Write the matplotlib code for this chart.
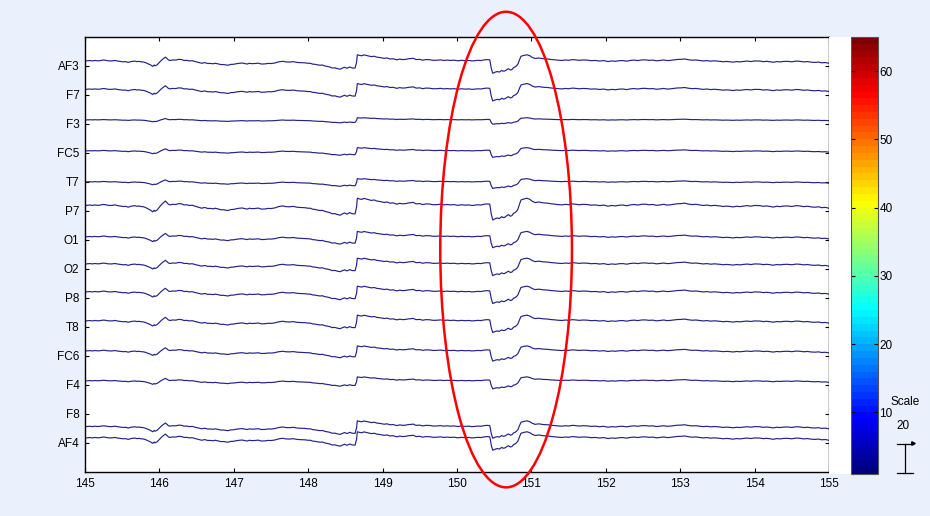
import numpy as np
import matplotlib
matplotlib.use("Agg")
import matplotlib.pyplot as plt
from matplotlib.patches import Ellipse, Rectangle
from matplotlib.lines import Line2D
from matplotlib.colors import LinearSegmentedColormap, Normalize

plt.rcParams['font.family'] = ['Liberation Sans', 'DejaVu Sans']

# channel names, top to bottom
channels = ['AF3', 'F7', 'F3', 'FC5', 'T7', 'P7', 'O1', 'O2',
            'P8', 'T8', 'FC6', 'F4', 'F8', 'AF4']

# common waveform: (time s, amplitude uV)
wave = [
    (145.00, 0.0), (145.04, 0.3), (145.07, 0.4), (145.10, 0.1), (145.13, 0.5),
    (145.17, 0.2), (145.20, 0.3), (145.24, 0.8), (145.27, 0.7), (145.31, 0.2),
    (145.36, 0.1), (145.40, 0.5), (145.44, 0.0), (145.48, -0.3), (145.51, -0.6),
    (145.55, -0.5), (145.58, -1.1), (145.62, -0.4), (145.67, 0.0), (145.70, -0.5),
    (145.72, -0.2), (145.75, -0.6), (145.78, -0.7), (145.81, -1.2), (145.85, -2.3),
    (145.88, -3.1), (145.91, -4.3), (145.93, -3.2), (145.94, -3.9), (145.97, -3.0),
    (146.00, -1.0), (146.02, 0.2), (146.05, 1.8), (146.08, 3.2), (146.10, 2.2),
    (146.12, 1.0), (146.14, 0.5), (146.18, 0.9), (146.22, 0.8), (146.26, 1.4),
    (146.30, 1.2), (146.33, 0.5), (146.37, 0.6), (146.40, 0.1), (146.44, 0.3),
    (146.48, -0.4), (146.52, -1.0), (146.57, -1.8), (146.60, -1.3), (146.62, -1.4),
    (146.65, -2.0), (146.68, -1.9), (146.72, -2.2), (146.75, -1.8), (146.79, -2.3),
    (146.83, -2.9), (146.86, -2.8), (146.89, -3.1), (146.92, -3.4), (146.96, -2.7),
    (147.00, -2.6), (147.02, -2.3), (147.06, -1.9), (147.11, -1.6), (147.15, -2.1),
    (147.18, -2.4), (147.21, -1.8), (147.24, -2.1), (147.28, -2.0), (147.33, -1.7),
    (147.37, -2.4), (147.42, -2.3), (147.46, -1.9), (147.50, -2.0), (147.55, -1.6),
    (147.60, -0.7), (147.63, -0.4), (147.66, -0.2), (147.70, -0.7), (147.75, -0.8),
    (147.80, -0.5), (147.85, -1.1), (147.90, -1.3), (147.95, -1.4), (148.00, -1.8),
    (148.03, -1.8), (148.06, -2.5), (148.09, -2.6), (148.12, -3.0), (148.16, -3.4),
    (148.19, -3.2), (148.22, -3.9), (148.26, -4.4), (148.29, -4.8), (148.32, -5.6),
    (148.36, -5.5), (148.39, -6.1), (148.43, -6.6), (148.46, -5.7), (148.49, -5.0),
    (148.52, -5.9), (148.56, -4.8), (148.59, -5.6), (148.63, -5.7), (148.65, -1.0),
    (148.66, 5.1), (148.69, 4.6), (148.72, 4.3), (148.75, 5.0), (148.79, 4.4),
    (148.82, 4.0), (148.85, 3.6), (148.89, 3.9), (148.92, 3.2), (148.97, 2.8),
    (149.02, 2.2), (149.06, 2.5), (149.10, 1.7), (149.14, 1.9), (149.19, 1.0),
    (149.23, 1.6), (149.27, 1.2), (149.31, 1.4), (149.35, 1.9), (149.38, 2.0),
    (149.41, 2.3), (149.45, 1.2), (149.50, 1.4), (149.54, 0.7), (149.58, 1.2),
    (149.63, 1.1), (149.68, 0.6), (149.73, 0.7), (149.78, 1.0), (149.82, 0.5),
    (149.87, 0.8), (149.91, 0.5), (149.96, 0.7), (150.01, 0.2), (150.06, 0.6),
    (150.11, 0.3), (150.16, 0.5), (150.20, 0.1), (150.24, 0.3), (150.28, 0.6),
    (150.32, 0.4), (150.36, 0.9), (150.40, 1.2), (150.44, 1.0), (150.45, -2.0),
    (150.46, -5.7), (150.48, -9.9), (150.51, -9.1), (150.54, -8.5), (150.57, -8.9),
    (150.60, -7.6), (150.62, -8.2), (150.64, -8.1), (150.67, -6.9), (150.69, -6.2),
    (150.72, -7.3), (150.74, -6.8), (150.76, -5.3), (150.78, -4.8), (150.80, -3.9),
    (150.82, -2.3), (150.84, 1.0), (150.86, 3.9), (150.90, 4.6), (150.94, 5.1),
    (150.98, 4.3), (151.01, 3.0), (151.05, 2.1), (151.10, 2.5), (151.16, 1.9),
    (151.22, 1.7), (151.26, 1.3), (151.30, 1.1), (151.36, 0.7), (151.41, 0.5),
    (151.46, 0.9), (151.50, 0.6), (151.55, 1.2), (151.59, 1.0), (151.64, 0.6),
    (151.70, 0.9), (151.76, 0.7), (151.80, 0.3), (151.86, 0.5), (151.92, 0.0),
    (151.97, 0.4), (152.03, -0.4), (152.08, 0.1), (152.13, -0.2), (152.18, 0.3),
    (152.23, 0.4), (152.28, -0.1), (152.33, 0.5), (152.38, 0.8), (152.43, 0.4),
    (152.48, 0.9), (152.53, 1.0), (152.58, 0.6), (152.63, 0.8), (152.68, 0.2),
    (152.73, 0.5), (152.78, 0.9), (152.82, 0.4), (152.86, 0.5), (152.91, 0.9),
    (152.96, 1.3), (153.01, 1.4), (153.06, 1.7), (153.10, 1.2), (153.16, 0.7),
    (153.21, 0.9), (153.26, 0.5), (153.31, 0.1), (153.36, 0.4), (153.41, -0.1),
    (153.46, 0.2), (153.53, -0.2), (153.58, -0.6), (153.62, -0.3), (153.66, -0.5),
    (153.71, -0.9), (153.76, -0.4), (153.80, -0.7), (153.85, -0.3), (153.90, 0.0),
    (153.95, -0.4), (154.00, 0.1), (154.07, 0.0), (154.12, -0.5), (154.16, -0.2),
    (154.20, -0.5), (154.25, -1.0), (154.30, -0.4), (154.34, -0.7), (154.39, -0.3),
    (154.44, -0.2), (154.50, -0.6), (154.56, 0.0), (154.61, -0.2), (154.66, -0.7),
    (154.71, -0.4), (154.76, -0.9), (154.81, -1.1), (154.86, -0.8), (154.90, -1.4),
    (154.95, -1.2), (155.00, -1.8),
]

# per-channel gain and dc offset (uV)
gains = [0.85, 0.8, 0.3, 0.45, 0.45, 1.0, 0.75, 0.8, 0.8, 0.8, 0.7, 0.55, 0.8, 0.85]
offsets = [3.4, 3.8, 2.8, 1.4, 0.0, 3.7, 2.1, 3.4, 4.1, 4.1, 3.4, 2.8, -8.8, 3.4]
scale_uv = 20

x_ticks = [145, 146, 147, 148, 149, 150, 151, 152, 153, 154, 155]
cbar_ticks = [10, 20, 30, 40, 50, 60]

bg = '#eaf0fc'
fig = plt.figure(figsize=(9.30, 5.16), dpi=100, facecolor=bg)
ax = fig.add_axes([0.0914, 0.0853, 0.8, 0.843])

# white strip between axes and colorbar
fig.patches.append(Rectangle((0.8914, 0.0815), 0.024, 0.847, transform=fig.transFigure,
                             facecolor='white', edgecolor='none', zorder=0))

wt = np.array([p[0] for p in wave])
wv = np.array([p[1] for p in wave])
n = len(channels)
for i, ch in enumerate(channels):
    base = n - i
    ax.plot(wt, base + (offsets[i] + gains[i] * wv) / scale_uv,
            color='#22228a', lw=0.85)

ax.set_xlim(145, 155)
ax.set_ylim(0, n + 1)
ax.set_xticks(x_ticks)
ax.set_yticks(range(n, 0, -1))
ax.set_yticklabels(channels)
ax.tick_params(direction='in', top=True, right=True, length=3, labelsize=8.5,
               width=0.8, pad=4)
for s in ax.spines.values():
    s.set_linewidth(1.0)

ell = Ellipse((150.66, 7.67), 1.77, 16.4, fill=False, edgecolor='red', lw=1.8,
              clip_on=False, zorder=5)
ax.add_patch(ell)

# colorbar, matlab-style jet with 64 steps
jet_m = LinearSegmentedColormap.from_list(
    'jet_m', [(0.0, (0, 0, 0.5)), (0.125, (0, 0, 1)), (0.375, (0, 1, 1)),
              (0.625, (1, 1, 0)), (0.875, (1, 0, 0)), (1.0, (0.5, 0, 0))], N=64)
cax = fig.add_axes([0.915, 0.0815, 0.029, 0.847])
sm = matplotlib.cm.ScalarMappable(norm=Normalize(1, 65), cmap=jet_m)
cb = fig.colorbar(sm, cax=cax)
cb.set_ticks(cbar_ticks)
cb.ax.tick_params(direction='in', left=True, right=True, length=3, labelsize=8.5,
                  width=0.8, pad=1)
cb.outline.set_edgecolor('#555555')

# scale indicator
fig.text(0.973, 0.22, 'Scale', ha='center', va='center', fontsize=8.5)
fig.text(0.971, 0.175, '20', ha='center', va='center', fontsize=8.5)
xs = 0.973
y0, y1 = (516 - 473) / 516, (516 - 444) / 516
fig.add_artist(Line2D([xs, xs], [y0, y1], color='black', lw=0.9))
fig.add_artist(Line2D([xs - 0.009, xs + 0.009], [y0, y0], color='black', lw=0.9))
fig.add_artist(Line2D([xs - 0.009, xs + 0.009], [y1, y1], color='black', lw=0.9))
fig.add_artist(Line2D([xs + 0.009], [y1 + 0.002], marker='>', markersize=2.5,
                      color='black'))

fig.savefig('out.png', dpi=100, facecolor=bg)
